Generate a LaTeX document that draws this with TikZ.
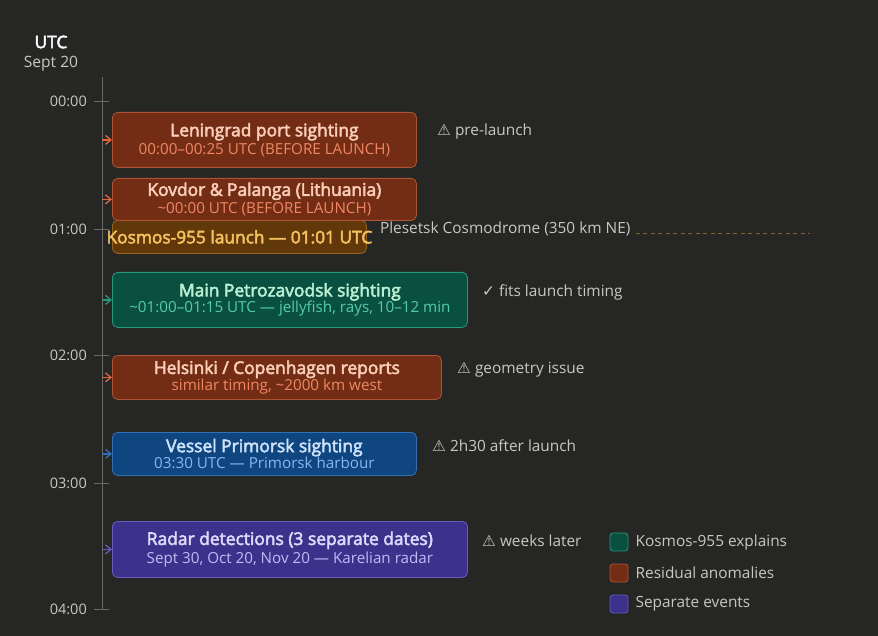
\documentclass[tikz,border=0pt]{standalone}
\usepackage{fontspec}
\setmainfont{Open Sans}
\newfontfamily\medfont[FakeBold=3]{Open Sans}
\newfontfamily\symfont{DejaVu Sans}
\usetikzlibrary{arrows.meta,positioning}
\definecolor{Backdrop}{RGB}{38,38,37}
\definecolor{AxisGray}{RGB}{105,105,102}
\definecolor{SoftText}{RGB}{200,200,192}
\definecolor{RustFill}{RGB}{115,45,20}
\definecolor{RustEdge}{RGB}{172,84,54}
\definecolor{RustTitle}{RGB}{250,205,185}
\definecolor{RustSub}{RGB}{240,135,100}
\definecolor{RustArrow}{RGB}{226,100,60}
\definecolor{LaunchFill}{RGB}{96,56,10}
\definecolor{LaunchEdge}{RGB}{150,100,30}
\definecolor{LaunchText}{RGB}{245,192,95}
\definecolor{LaunchDash}{RGB}{130,100,42}
\definecolor{GreenFill}{RGB}{10,80,65}
\definecolor{GreenEdge}{RGB}{40,150,120}
\definecolor{GreenTitle}{RGB}{185,240,212}
\definecolor{GreenSub}{RGB}{85,205,165}
\definecolor{BlueFill}{RGB}{15,70,128}
\definecolor{BlueEdge}{RGB}{50,112,180}
\definecolor{BlueTitle}{RGB}{205,225,250}
\definecolor{BlueSub}{RGB}{135,182,240}
\definecolor{PurpleFill}{RGB}{60,50,140}
\definecolor{PurpleEdge}{RGB}{102,92,192}
\definecolor{PurpleTitle}{RGB}{222,216,250}
\definecolor{PurpleSub}{RGB}{192,186,245}
\newcommand{\boxtitle}[2]{{\medfont\fontsize{17.4}{18}\selectfont\color{#1}#2}}
\newcommand{\boxsub}[2]{{\fontsize{15.2}{18}\selectfont\color{#1}#2}}

\begin{document}
\begin{tikzpicture}[x=1pt, y=-1pt,
    eventbox/.style={draw, rounded corners=5pt, line width=0.8pt, anchor=north west, align=center, inner sep=0pt, font=\fontsize{15.2}{18}\selectfont},
    ticklabel/.style={anchor=east, text=SoftText, font=\fontsize{14.5}{17}\selectfont, inner sep=0pt},
    note/.style={anchor=west, text=SoftText, font=\fontsize{15.4}{18}\selectfont, inner sep=0pt},
    legendkey/.style={draw, rounded corners=3pt, line width=0.8pt, minimum size=18pt, inner sep=0pt},
    feed/.style={-{Straight Barb[length=5.5pt,width=9pt]}, line width=1.3pt}]
  \fill[Backdrop] (0,0) rectangle (878,636);
  \useasboundingbox (0,0) rectangle (878,636);

  % header
  \node[text=white, font=\medfont\fontsize{17.3}{20}\selectfont] (utc) at (51,42) {UTC};
  \node[text=SoftText, font=\fontsize{15.6}{18}\selectfont] (day) at (51,64) {Sept 20};

  % time axis
  \coordinate (axis) at (102,77);
  \coordinate (axisend) at (102,609);
  \draw[AxisGray, line width=0.9pt] (axis) -- (axisend);
  \foreach \hr/\yy in {00/101, 01/229, 02/355, 03/483, 04/609} {
    \draw[AxisGray, line width=0.9pt] (94,\yy) -- (109,\yy);
    \node[ticklabel] (tick\hr) at (87,\yy) {\hr:00};
  }

  % launch
  \node[eventbox, fill=LaunchFill, draw=LaunchEdge, minimum width=254pt, minimum height=33pt] (launch) at (112,220) {};
  \node[text=LaunchText, font=\medfont\fontsize{17.3}{20}\selectfont, inner sep=0pt] (launchtext) at (launch.center) {Kosmos-955 launch — 01:01 UTC};
  \node[note, right=13pt of launch.east, yshift=8pt] (plesetsk) {Plesetsk Cosmodrome (350 km NE)};
  \coordinate (dashend) at (810,233);
  \draw[LaunchDash, line width=0.9pt, dash pattern=on 4pt off 3.5pt] (plesetsk.east |- dashend) ++(5,0) -- (dashend);

  % events
  \node[eventbox, fill=RustFill, draw=RustEdge, minimum width=304pt, minimum height=55pt] (leningrad) at (112,112)
    {\boxtitle{RustTitle}{Leningrad port sighting}\\\boxsub{RustSub}{00:00–00:25 UTC (BEFORE LAUNCH)}};
  \node[eventbox, fill=RustFill, draw=RustEdge, minimum width=304pt, minimum height=42pt] (kovdor) at (112,178)
    {\boxtitle{RustTitle}{Kovdor \& Palanga (Lithuania)}\\\boxsub{RustSub}{\textasciitilde00:00 UTC (BEFORE LAUNCH)}};
  \node[eventbox, fill=GreenFill, draw=GreenEdge, minimum width=355pt, minimum height=55pt] (petrozavodsk) at (112,272)
    {\boxtitle{GreenTitle}{Main Petrozavodsk sighting}\\[-1.5pt]\boxsub{GreenSub}{\textasciitilde01:00–01:15 UTC — jellyfish, rays, 10–12 min}};
  \node[eventbox, fill=RustFill, draw=RustEdge, minimum width=329pt, minimum height=44pt] (helsinki) at (112,355)
    {\boxtitle{RustTitle}{Helsinki / Copenhagen reports}\\[-1.5pt]\boxsub{RustSub}{similar timing, \textasciitilde2000 km west}};
  \node[eventbox, fill=BlueFill, draw=BlueEdge, minimum width=304pt, minimum height=43pt] (primorsk) at (112,432)
    {\boxtitle{BlueTitle}{Vessel Primorsk sighting}\\[-1.5pt]\boxsub{BlueSub}{03:30 UTC — Primorsk harbour}};
  \node[eventbox, fill=PurpleFill, draw=PurpleEdge, minimum width=355pt, minimum height=56pt] (radar) at (112,521)
    {\boxtitle{PurpleTitle}{Radar detections (3 separate dates)}\\[0.5pt]\boxsub{PurpleSub}{Sept 30, Oct 20, Nov 20 — Karelian radar}};

  % feeds from the axis
  \draw[feed, RustArrow] (leningrad.west -| axis) -- (leningrad.west);
  \draw[feed, RustArrow] (kovdor.west -| axis) -- (kovdor.west);
  \draw[feed, GreenEdge] (petrozavodsk.west -| axis) -- (petrozavodsk.west);
  \draw[feed, RustArrow] (helsinki.west -| axis) -- (helsinki.west);
  \draw[feed, BlueEdge] (primorsk.west -| axis) -- (primorsk.west);
  \draw[feed, PurpleEdge] (radar.west -| axis) -- (radar.west);

  % notes
  \node[note] (noteleningrad) at (437,132) {{\symfont ⚠} pre-launch};
  \node[note] (notepetro) at (482,292) {{\symfont ✓} fits launch timing};
  \node[note] (notehelsinki) at (457,370) {{\symfont ⚠} geometry issue};
  \node[note] (noteprimorsk) at (432,446) {{\symfont ⚠} 2h30 after launch};
  \node[note] (noteradar) at (482,541) {{\symfont ⚠} weeks later};

  % legend
  \node[legendkey, fill=GreenFill, draw=GreenEdge] (keyexplains) at (619,542) {};
  \node[legendkey, fill=RustFill, draw=RustEdge] (keyresidual) at (619,573) {};
  \node[legendkey, fill=PurpleFill, draw=PurpleEdge] (keyseparate) at (619,604) {};
  \node[note, right=7pt of keyexplains] {Kosmos-955 explains};
  \node[note, right=7pt of keyresidual] {Residual anomalies};
  \node[note, right=7pt of keyseparate] {Separate events};
\end{tikzpicture}
\end{document}
